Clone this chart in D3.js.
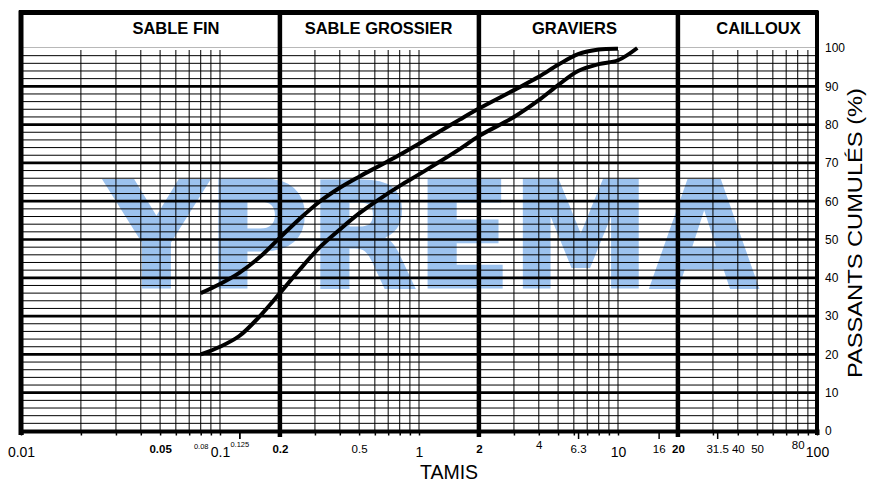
<!DOCTYPE html>
<html>
<head>
<meta charset="utf-8">
<script src="https://cdn.jsdelivr.net/npm/d3@7"></script>
<style>
  body { margin: 0; background: #fff; }
  svg { display: block; font-family: "Liberation Sans", Arial, sans-serif; }
</style>
</head>
<body>
<svg id="svg-granulo"></svg>
<script>
//*************** data ****************************************//

// sieve sizes (mm) and cumulative passing (%) - upper curve
var sieveUpper = [0.08, 0.1, 0.125, 0.16, 0.2, 0.25, 0.315, 0.4, 0.5, 0.63, 0.8, 1, 1.25, 1.6, 2, 3, 4, 5, 6.3, 8, 10];
var passUpper  = [36, 38.4, 41.3, 45.6, 50.5, 55.3, 59.8, 63.5, 66.4, 69.2, 72.1, 75, 78, 81.3, 84.2, 89, 92.5, 95.6, 98.4, 99.6, 99.8];

// lower curve
var sieveLower = [0.08, 0.1, 0.125, 0.16, 0.2, 0.25, 0.315, 0.4, 0.5, 0.63, 0.8, 1, 1.25, 1.6, 2, 3, 4, 5, 6.3, 8, 10, 12.5];
var passLower  = [20, 22, 24.8, 30.2, 36, 42, 47.8, 52.6, 56.8, 60.5, 64, 67, 70.1, 73.6, 77, 82, 86.4, 90.3, 94, 95.8, 96.8, 100];

// section names and their limits
var sections = ["SABLE FIN", "SABLE GROSSIER", "GRAVIERS", "CAILLOUX"];
var sectionLimits = [0.2, 2, 20];

// bottom tick labels
var tamisLabels = ["0.01", "0.05", "0.08", "0.1", "0.125", "0.2", "0.5", "1", "2", "4", "6.3", "10", "16", "20", "31.5", "40", "50", "80", "100"];
var decadeLabels = ["0.01", "0.1", "1", "10", "100"];
var boldLabels = ["0.05", "0.2", "2", "20"];
var smallLabels = ["0.08", "0.125"];
var raisedLabels = ["4", "80"];
// sieves with a long tick
var longTicks = [0.125, 6.3, 16, 31.5];

// right axis ticks
var passTicks = [0, 10, 20, 30, 40, 50, 60, 70, 80, 90, 100];

//*************** initialise parameters ******************//

var W = 872, H = 481;
var plot = {left: 21, right: 817, top: 48, bottom: 431, frameTop: 12.5};

var svg = d3.select("svg#svg-granulo")
.attr("width", W)
.attr("height", H);

var xScale = d3.scaleLog().domain([0.01, 100]).range([plot.left, plot.right]),
    yScale = d3.scaleLinear().domain([0, 100]).range([plot.bottom, plot.top]);

// log grid values 1..9 per decade
var gridX = [];
[0.01, 0.1, 1, 10].forEach(function(d) {
    for (var k = 1; k <= 9; k++) gridX.push(+(k * d).toPrecision(3));
});
gridX.push(100);

var gridY = d3.range(0, 101, 2);

//--------------- watermark
svg.append("text")
.attr("x", 106)
.attr("y", 287)
.attr("textLength", 652)
.attr("lengthAdjust", "spacingAndGlyphs")
.style("font-family", "'DejaVu Sans', sans-serif")
.style("font-weight", "bold")
.style("font-size", "146px")
.style("fill", "#9cc2ee")
.style("stroke", "#9cc2ee")
.style("stroke-width", 3)
.text("YPREMA");

//--------------- grid
var grid = svg.append("g").attr("class", "grid");

grid.selectAll("line.hgrid")
.data(gridY.filter(function(d) { return d > 0 && d < 100; }))
.enter().append("line")
.attr("class", "hgrid")
.attr("x1", plot.left)
.attr("x2", plot.right)
.attr("y1", function(d) { return yScale(d); })
.attr("y2", function(d) { return yScale(d); })
.attr("stroke", "#000")
.attr("stroke-width", function(d) { return d % 10 === 0 ? 2.7 : 1; });

// top line of the plot (100 %) is light grey
grid.append("line")
.attr("x1", plot.left).attr("x2", plot.right)
.attr("y1", yScale(100) - 0.5).attr("y2", yScale(100) - 0.5)
.attr("stroke", "#b8b8b8")
.attr("stroke-width", 1);

grid.selectAll("line.vgrid")
.data(gridX.filter(function(d) { return d > 0.01 && d < 100 && sectionLimits.indexOf(d) < 0; }))
.enter().append("line")
.attr("class", "vgrid")
.attr("x1", function(d) { return xScale(d); })
.attr("x2", function(d) { return xScale(d); })
.attr("y1", yScale(100) + 2)
.attr("y2", plot.bottom)
.attr("stroke", "#000")
.attr("stroke-width", 1);

//--------------- frame and section dividers
var frame = svg.append("g").attr("class", "frame");

frame.append("line")
.attr("x1", plot.left - 2).attr("x2", plot.right + 1)
.attr("y1", plot.frameTop).attr("y2", plot.frameTop)
.attr("stroke", "#000").attr("stroke-width", 5);

frame.append("line")
.attr("x1", plot.left).attr("x2", plot.left)
.attr("y1", plot.frameTop - 2).attr("y2", plot.bottom + 4)
.attr("stroke", "#000").attr("stroke-width", 5);

frame.append("line")
.attr("x1", plot.right).attr("x2", plot.right)
.attr("y1", plot.frameTop - 2).attr("y2", plot.bottom + 4)
.attr("stroke", "#000").attr("stroke-width", 4);

frame.selectAll("line.divider")
.data(sectionLimits)
.enter().append("line")
.attr("class", "divider")
.attr("x1", function(d) { return xScale(d); })
.attr("x2", function(d) { return xScale(d); })
.attr("y1", plot.frameTop)
.attr("y2", plot.bottom + 6)
.attr("stroke", "#000")
.attr("stroke-width", 4.5);

// section titles
var sectionCenters = [176, 378.5, 574.5, 758.5];
frame.selectAll("text.section")
.data(sections)
.enter().append("text")
.attr("class", "section")
.attr("x", function(d, i) { return sectionCenters[i]; })
.attr("y", 34)
.attr("text-anchor", "middle")
.style("font-size", "16.5px")
.style("font-weight", "bold")
.text(function(d) { return d; });

//--------------- bottom axis (TAMIS)
var tickVals = gridX.concat(longTicks, [0.125]);
var xAxis = d3.axisBottom(xScale)
.tickValues(tickVals)
.tickSizeOuter(0)
.tickSize(4)
.tickFormat(function(d) {
    var s = String(+d.toPrecision(3));
    return tamisLabels.indexOf(s) >= 0 ? s : "";
});

var x_axis = svg.append("g")
.attr("id", "x-axis")
.attr("transform", "translate(0," + plot.bottom + ")")
.call(xAxis);

x_axis.select(".domain")
.attr("stroke", "#000")
.attr("stroke-width", 4);

x_axis.selectAll(".tick line")
.attr("stroke", "#000")
.attr("stroke-width", 1.5)
.attr("y2", function(d) { return longTicks.indexOf(d) >= 0 ? 8 : 4.5; });

// remove duplicated labels (0.125 listed twice)
var seen = {};
x_axis.selectAll(".tick text").each(function() {
    var t = d3.select(this).text();
    if (t !== "" && seen[t]) d3.select(this).text("");
    seen[t] = true;
});

x_axis.selectAll(".tick text")
.attr("fill", "#000")
.style("font-family", "'Liberation Sans', Arial, sans-serif")
.attr("dy", null)
.attr("y", function() {
    var t = d3.select(this).text();
    if (decadeLabels.indexOf(t) >= 0) return 26;
    if (smallLabels.indexOf(t) >= 0) return t === "0.125" ? 16 : 18;
    if (raisedLabels.indexOf(t) >= 0) return 17.5;
    return 21.5;
})
.style("font-size", function() {
    var t = d3.select(this).text();
    if (decadeLabels.indexOf(t) >= 0) return "14px";
    if (smallLabels.indexOf(t) >= 0) return "7.5px";
    return "11.5px";
})
.style("font-weight", function() {
    return boldLabels.indexOf(d3.select(this).text()) >= 0 ? "bold" : "normal";
});

x_axis.append("text")
.attr("x", 449)
.attr("y", 47.5)
.attr("text-anchor", "middle")
.attr("fill", "#000")
.style("font-size", "19.5px")
.text("TAMIS");

//--------------- right axis (PASSANTS CUMULÉS)
var yAxis = d3.axisRight(yScale)
.tickValues(passTicks)
.tickSize(0)
.tickPadding(8);

var y_axis = svg.append("g")
.attr("id", "y-axis")
.attr("transform", "translate(" + plot.right + ",0)")
.call(yAxis);

y_axis.select(".domain").remove();
y_axis.selectAll(".tick text")
.attr("fill", "#000")
.style("font-family", "'Liberation Sans', Arial, sans-serif")
.style("font-size", "12px");

svg.append("text")
.attr("transform", "translate(862,233) rotate(-90)")
.attr("text-anchor", "middle")
.attr("textLength", 290)
.attr("lengthAdjust", "spacingAndGlyphs")
.style("font-size", "20px")
.text("PASSANTS CUMULÉS (%)");

//--------------- curves
var line = d3.line()
.x(function(d) { return xScale(d.sieve); })
.y(function(d) { return yScale(d.pass); })
.curve(d3.curveCatmullRom.alpha(0.5));

var upper = sieveUpper.map(function(d, i) { return {sieve: d, pass: passUpper[i]}; });
var lower = sieveLower.map(function(d, i) { return {sieve: d, pass: passLower[i]}; });

var lines = svg.append("g").attr("class", "lines");

[upper, lower].forEach(function(data) {
    lines.append("path")
    .datum(data)
    .attr("fill", "none")
    .attr("stroke", "#000")
    .attr("stroke-width", 4)
    .attr("stroke-linejoin", "round")
    .attr("d", line);
});
</script>
</body>
</html>
